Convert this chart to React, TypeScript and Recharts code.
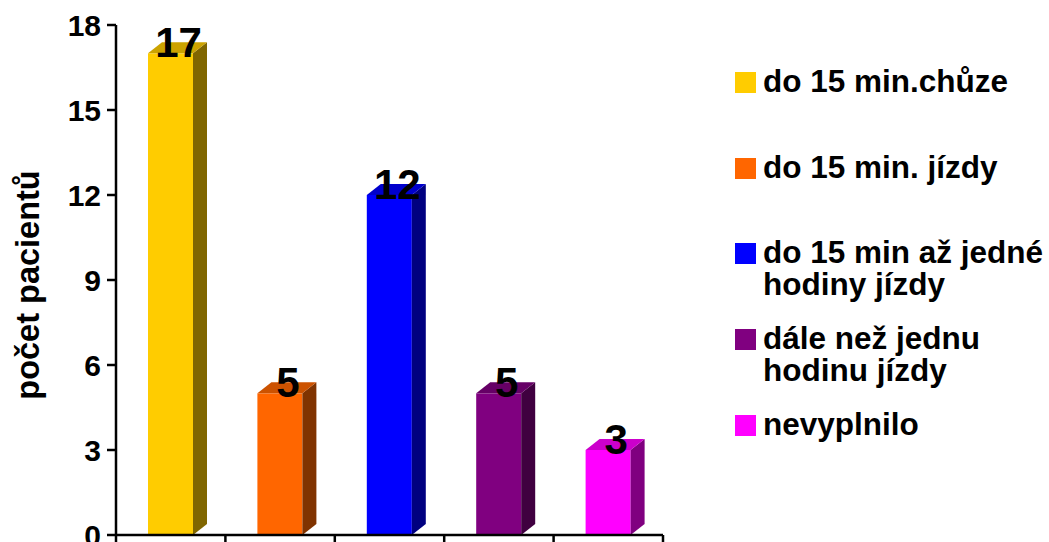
import React from 'react';
import { BarChart, Bar, XAxis, YAxis, Cell, LabelList, Label } from 'recharts';

// Where patients live relative to the clinic
const categories = [
  'do 15 min.chůze',
  'do 15 min. jízdy',
  'do 15 min až jedné hodiny jízdy',
  'dále než jednu hodinu jízdy',
  'nevyplnilo',
];
const patientCounts = [17, 5, 12, 5, 3];
const yTicks = [0, 3, 6, 9, 12, 15, 18];
const yAxisTitle = 'počet pacientů';

// Legend text broken into lines as shown beside the chart
const legendLines = [
  ['do 15 min.chůze'],
  ['do 15 min. jízdy'],
  ['do 15 min až jedné', 'hodiny jízdy'],
  ['dále než jednu', 'hodinu jízdy'],
  ['nevyplnilo'],
];

// Face colours of the pseudo-3D columns
const frontColors = ['#FFCC00', '#FF6600', '#0000FF', '#800080', '#FF00FF'];
const sideColors = ['#806600', '#803300', '#000080', '#400040', '#800080'];
const topColors = ['#CCA300', '#CC5200', '#0000CC', '#660066', '#CC00CC'];

const data = categories.map((name, i) => ({ name, value: patientCounts[i] }));

const FONT = '"Liberation Sans", Arial, Helvetica, sans-serif';
const DEPTH_X = 14;
const DEPTH_Y = 11;

const Column3D = (props: any) => {
  const { x, y, width, height, index } = props;
  if (width == null || height == null) return null;
  const r = x + width;
  const b = y + height;
  return (
    <g>
      <rect x={x} y={y} width={width} height={height} fill={frontColors[index]} />
      <polygon
        points={`${r},${y} ${r + DEPTH_X},${y - DEPTH_Y} ${r + DEPTH_X},${b - DEPTH_Y} ${r},${b}`}
        fill={sideColors[index]}
      />
      <polygon
        points={`${x},${y} ${x + DEPTH_X},${y - DEPTH_Y} ${r + DEPTH_X},${y - DEPTH_Y} ${r},${y}`}
        fill={topColors[index]}
      />
    </g>
  );
};

const ValueLabel = (props: any) => {
  const { x, y, width, value } = props;
  return (
    <text
      x={x + width / 2 + DEPTH_X / 2 + 1}
      y={y + 4}
      textAnchor="middle"
      fontFamily={FONT}
      fontWeight="bold"
      fontSize={42}
      fill="#000"
    >
      {value}
    </text>
  );
};

// Tick marks sit on the category boundaries rather than the centres
const BoundaryTick = (props: any) => {
  const { x, y, payload, index, width, visibleTicksCount } = props;
  let half = payload && payload.offset ? payload.offset : 0;
  if (!half && width && visibleTicksCount) half = width / visibleTicksCount / 2;
  return (
    <g>
      {index === 0 && (
        <line x1={x - half} y1={y} x2={x - half} y2={y + 9} stroke="#000" strokeWidth={2.5} />
      )}
      <line x1={x + half} y1={y} x2={x + half} y2={y + 9} stroke="#000" strokeWidth={2.5} />
    </g>
  );
};

const AxisTitle = (props: any) => {
  const { viewBox } = props;
  const cy = viewBox ? viewBox.y + viewBox.height / 2 + 5 : 285;
  return (
    <text
      x={39}
      y={cy}
      transform={`rotate(-90, 39, ${cy})`}
      textAnchor="middle"
      fontFamily={FONT}
      fontWeight="bold"
      fontSize={32.5}
      fill="#000"
    >
      {yAxisTitle}
    </text>
  );
};

const LegendBox = () => {
  const rowTops = [72, 158, 243, 329, 415];
  return (
    <svg
      width={1049}
      height={542}
      style={{ position: 'absolute', left: 0, top: 0, pointerEvents: 'none' }}
    >
      {legendLines.map((lines, i) => (
        <g key={i}>
          <rect x={735} y={rowTops[i]} width={21} height={21} fill={frontColors[i]} />
          {lines.map((line, j) => (
            <text
              key={j}
              x={763}
              y={rowTops[i] + 20 + j * 32}
              fontFamily={FONT}
              fontWeight="bold"
              fontSize={31.5}
              fill="#000"
            >
              {line}
            </text>
          ))}
        </g>
      ))}
    </svg>
  );
};

export default function App() {
  return (
    <div
      style={{
        position: 'absolute',
        left: 0,
        top: 0,
        width: 1049,
        height: 542,
        background: '#fff',
        overflow: 'hidden',
        fontFamily: FONT,
      }}
    >
      <BarChart
        width={1049}
        height={542}
        data={data}
        margin={{ top: 25, right: 386, bottom: 0, left: 0 }}
        barSize={45}
      >
        <XAxis
          dataKey="name"
          interval={0}
          height={7}
          tickLine={false}
          tickSize={0}
          tickMargin={0}
          axisLine={{ stroke: '#000', strokeWidth: 2.5 }}
          tick={<BoundaryTick />}
        />
        <YAxis
          width={116}
          domain={[0, 18]}
          ticks={yTicks}
          interval={0}
          tickSize={9}
          tickMargin={6}
          axisLine={{ stroke: '#000', strokeWidth: 2.5 }}
          tickLine={{ stroke: '#000', strokeWidth: 2.5 }}
          tick={{ fill: '#000', fontSize: 30, fontWeight: 'bold', fontFamily: FONT }}
        >
          <Label content={<AxisTitle />} />
        </YAxis>
        <Bar dataKey="value" isAnimationActive={false} shape={<Column3D />}>
          {data.map((d, i) => (
            <Cell key={d.name} fill={frontColors[i]} />
          ))}
          <LabelList dataKey="value" content={<ValueLabel />} />
        </Bar>
      </BarChart>
      <LegendBox />
    </div>
  );
}
